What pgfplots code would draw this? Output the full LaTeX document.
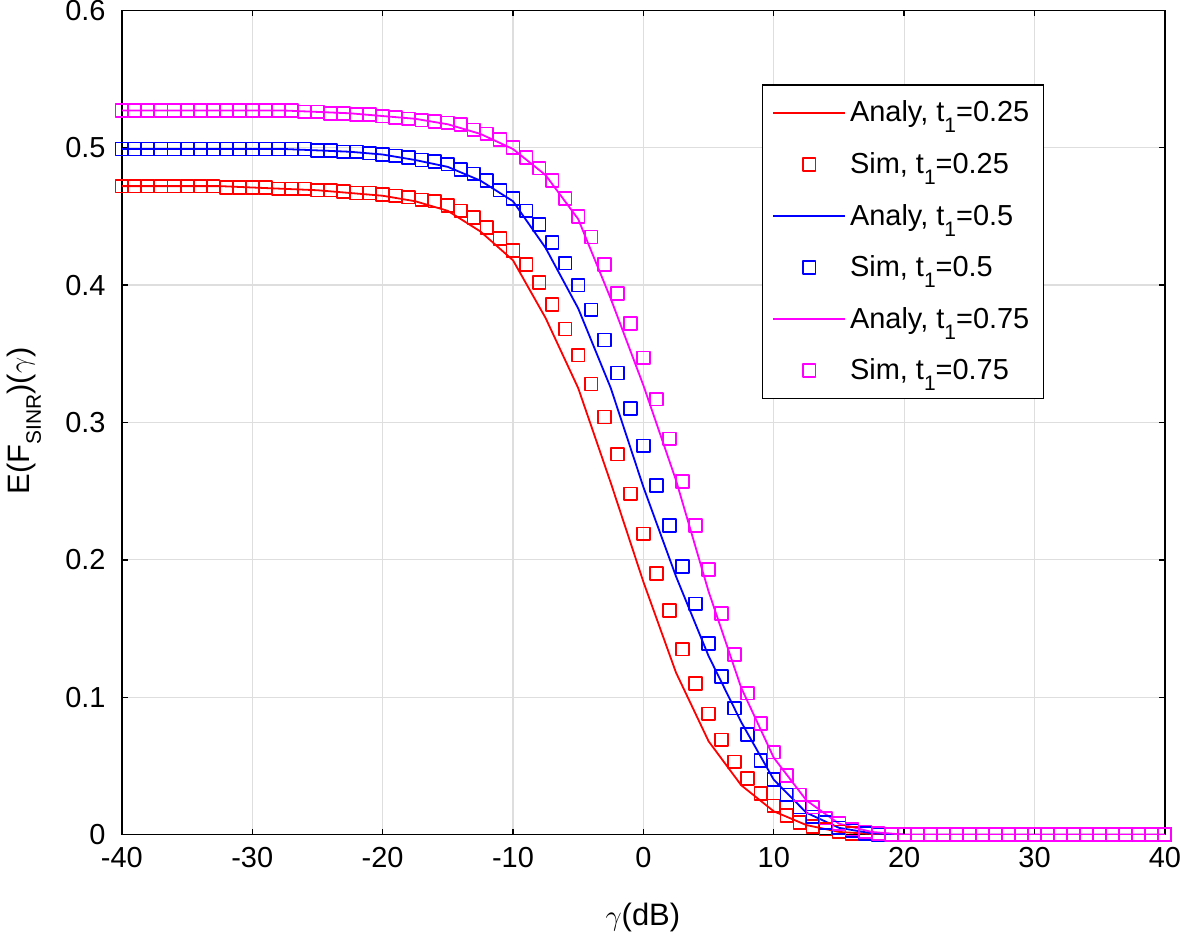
\documentclass[border=0pt]{standalone}
\usepackage{fontspec}
\setmainfont{Liberation Sans}
\usepackage{pgfplots}
\pgfplotsset{compat=1.18}
\definecolor{gridc}{RGB}{222,222,222}
\definecolor{mred}{RGB}{255,0,0}
\definecolor{mblue}{RGB}{0,0,255}
\definecolor{mmag}{RGB}{255,0,255}
\newcommand{\sub}[1]{\raisebox{-0.38em}{\fontsize{10.5}{11}\selectfont #1}}
\begin{document}
\begin{tikzpicture}
\begin{axis}[
  scale only axis, width=522.5pt, height=413pt,
  xmin=-40, xmax=40, ymin=0, ymax=0.6,
  xtick={-40,-30,-20,-10,0,10,20,30,40},
  xticklabels={-40,-30,-20,-10,0,10,20,30,40},
  ytick={0,0.1,0.2,0.3,0.4,0.5,0.6},
  yticklabels={0,0.1,0.2,0.3,0.4,0.5,0.6},
  grid=major, major grid style={gridc, line width=0.6pt},
  tick align=inside, major tick length=3pt,
  axis line style={black, line width=0.7pt},
  every tick/.style={black, line width=0.7pt},
  tick label style={font=\fontsize{14.5}{17}\selectfont, inner sep=0pt},
  xticklabel style={yshift=-6pt},
  yticklabel style={xshift=-8pt},
  label style={font=\fontsize{15.5}{18}\selectfont},
  xlabel={$\gamma$(dB)},
  ylabel={E(F\sub{SINR})($\gamma$)},
  xlabel style={at={(axis description cs:0.4995,-0.1005)}, anchor=center},
  ylabel style={at={(axis description cs:-0.094,0.502)}, anchor=center},
  legend style={at={(0.884,0.910)}, anchor=north east, draw=black, line width=0.6pt,
    font=\fontsize{14.5}{17}\selectfont, row sep=9.8pt, inner xsep=5pt, inner ysep=6pt},
  legend cell align=left,
  legend image code/.code={\draw[#1, line width=0.9pt, mark repeat=2, mark phase=2] plot coordinates {(0pt,0pt) (18pt,0pt) (36pt,0pt)};},
  every axis plot/.append style={line join=round},
]
% Analytical t1=0.25
\addplot[mred, line width=0.9pt, mark=none] coordinates {
(-40,0.472) (-37.5,0.472) (-35,0.472) (-32.5,0.472) (-30,0.471) (-27.5,0.470) (-25,0.469) (-22.5,0.467) (-20,0.465) (-17.5,0.461) (-15,0.454) (-12.5,0.439) (-10,0.418) (-7.5,0.376) (-5,0.325) (-2.5,0.256) (0,0.184) (2.5,0.118) (5,0.068) (7.5,0.036) (10,0.017) (12.5,0.007) (15,0.002) (17.5,0.0005) (20,0) (22.5,0) (25,0) (27.5,0) (30,0) (32.5,0) (35,0) (37.5,0) (40,0)};
\addlegendentry{Analy, t\sub{1}=0.25}
% Simulation t1=0.25
\addplot[only marks, mark=square, mark size=3.2pt, mark options={mred, line width=0.85pt}] coordinates {
(-40,0.472) (-39,0.472) (-38,0.472) (-37,0.472) (-36,0.472) (-35,0.472) (-34,0.472) (-33,0.472) (-32,0.471) (-31,0.471) (-30,0.471) (-29,0.471) (-28,0.470) (-27,0.470) (-26,0.470) (-25,0.469) (-24,0.469) (-23,0.468) (-22,0.467) (-21,0.467) (-20,0.466) (-19,0.465) (-18,0.464) (-17,0.462) (-16,0.461) (-15,0.458) (-14,0.454) (-13,0.449) (-12,0.442) (-11,0.434) (-10,0.425) (-9,0.415) (-8,0.402) (-7,0.386) (-6,0.368) (-5,0.349) (-4,0.328) (-3,0.304) (-2,0.277) (-1,0.248) (0,0.219) (1,0.190) (2,0.163) (3,0.135) (4,0.110) (5,0.088) (6,0.069) (7,0.053) (8,0.041) (9,0.030) (10,0.021) (11,0.014) (12,0.009) (13,0.006) (14,0.004) (15,0.002) (16,0.001) (17,0.0005) (18,0) (19,0) (20,0) (21,0) (22,0) (23,0) (24,0) (25,0) (26,0) (27,0) (28,0) (29,0) (30,0) (31,0) (32,0) (33,0) (34,0) (35,0) (36,0) (37,0) (38,0) (39,0) (40,0)};
\addlegendentry{Sim, t\sub{1}=0.25}
% Analytical t1=0.5
\addplot[mblue, line width=0.9pt, mark=none] coordinates {
(-40,0.499) (-37.5,0.499) (-35,0.499) (-32.5,0.499) (-30,0.499) (-27.5,0.499) (-25,0.498) (-22.5,0.497) (-20,0.495) (-17.5,0.491) (-15,0.486) (-12.5,0.476) (-10,0.461) (-7.5,0.427) (-5,0.383) (-2.5,0.325) (0,0.253) (2.5,0.188) (5,0.130) (7.5,0.082) (10,0.040) (12.5,0.016) (15,0.005) (17.5,0.001) (20,0) (22.5,0) (25,0) (27.5,0) (30,0) (32.5,0) (35,0) (37.5,0) (40,0)};
\addlegendentry{Analy, t\sub{1}=0.5}
% Simulation t1=0.5
\addplot[only marks, mark=square, mark size=3.2pt, mark options={mblue, line width=0.85pt}] coordinates {
(-40,0.499) (-39,0.499) (-38,0.499) (-37,0.499) (-36,0.499) (-35,0.499) (-34,0.499) (-33,0.499) (-32,0.499) (-31,0.499) (-30,0.499) (-29,0.499) (-28,0.499) (-27,0.499) (-26,0.499) (-25,0.498) (-24,0.498) (-23,0.497) (-22,0.497) (-21,0.496) (-20,0.495) (-19,0.494) (-18,0.493) (-17,0.491) (-16,0.490) (-15,0.488) (-14,0.484) (-13,0.481) (-12,0.476) (-11,0.469) (-10,0.463) (-9,0.454) (-8,0.444) (-7,0.431) (-6,0.416) (-5,0.400) (-4,0.382) (-3,0.360) (-2,0.336) (-1,0.310) (0,0.283) (1,0.254) (2,0.225) (3,0.195) (4,0.168) (5,0.139) (6,0.115) (7,0.092) (8,0.073) (9,0.054) (10,0.040) (11,0.029) (12,0.020) (13,0.013) (14,0.009) (15,0.005) (16,0.003) (17,0.001) (18,0) (19,0) (20,0) (21,0) (22,0) (23,0) (24,0) (25,0) (26,0) (27,0) (28,0) (29,0) (30,0) (31,0) (32,0) (33,0) (34,0) (35,0) (36,0) (37,0) (38,0) (39,0) (40,0)};
\addlegendentry{Sim, t\sub{1}=0.5}
% Analytical t1=0.75
\addplot[mmag, line width=0.9pt, mark=none] coordinates {
(-40,0.527) (-37.5,0.527) (-35,0.527) (-32.5,0.527) (-30,0.527) (-27.5,0.527) (-25,0.526) (-22.5,0.525) (-20,0.523) (-17.5,0.521) (-15,0.517) (-12.5,0.510) (-10,0.499) (-7.5,0.480) (-5,0.448) (-2.5,0.390) (0,0.327) (2.5,0.258) (5,0.177) (7.5,0.107) (10,0.056) (12.5,0.025) (15,0.008) (17.5,0.002) (20,0) (22.5,0) (25,0) (27.5,0) (30,0) (32.5,0) (35,0) (37.5,0) (40,0)};
\addlegendentry{Analy, t\sub{1}=0.75}
% Simulation t1=0.75
\addplot[only marks, mark=square, mark size=3.2pt, mark options={mmag, line width=0.85pt}] coordinates {
(-40,0.527) (-39,0.527) (-38,0.527) (-37,0.527) (-36,0.527) (-35,0.527) (-34,0.527) (-33,0.527) (-32,0.527) (-31,0.527) (-30,0.527) (-29,0.527) (-28,0.527) (-27,0.527) (-26,0.526) (-25,0.526) (-24,0.525) (-23,0.525) (-22,0.524) (-21,0.524) (-20,0.523) (-19,0.522) (-18,0.521) (-17,0.520) (-16,0.519) (-15,0.518) (-14,0.517) (-13,0.513) (-12,0.510) (-11,0.506) (-10,0.500) (-9,0.493) (-8,0.485) (-7,0.476) (-6,0.463) (-5,0.450) (-4,0.435) (-3,0.415) (-2,0.394) (-1,0.372) (0,0.347) (1,0.317) (2,0.288) (3,0.257) (4,0.225) (5,0.193) (6,0.161) (7,0.131) (8,0.103) (9,0.081) (10,0.060) (11,0.043) (12,0.029) (13,0.020) (14,0.012) (15,0.008) (16,0.004) (17,0.002) (18,0.001) (19,0) (20,0) (21,0) (22,0) (23,0) (24,0) (25,0) (26,0) (27,0) (28,0) (29,0) (30,0) (31,0) (32,0) (33,0) (34,0) (35,0) (36,0) (37,0) (38,0) (39,0) (40,0)};
\addlegendentry{Sim, t\sub{1}=0.75}
\end{axis}
\end{tikzpicture}
\end{document}
